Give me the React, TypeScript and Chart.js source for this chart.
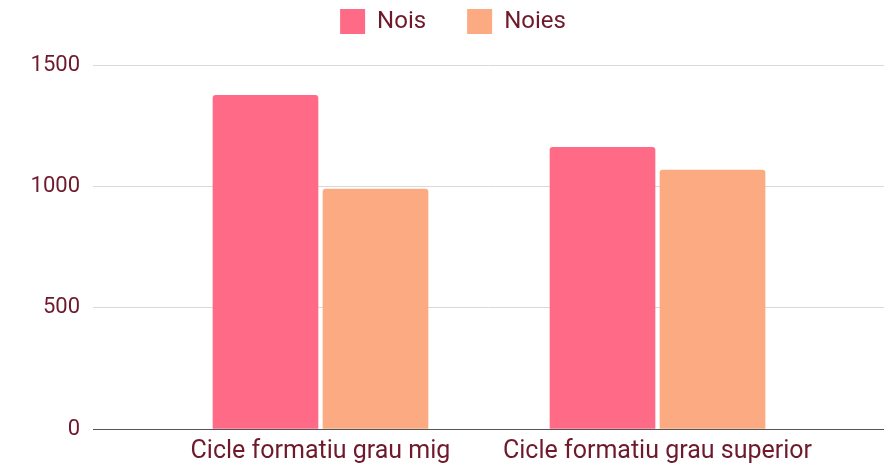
import React, { useEffect, useRef } from "react";
import { Chart, registerables, layouts } from "chart.js";

Chart.register(...registerables);

const categories = ["Cicle formatiu grau mig", "Cicle formatiu grau superior"];
const nois = [1375, 1161];
const noies = [989, 1067];
const yTicks = [0, 500, 1000, 1500];

const FONT = "Roboto, 'Noto Sans', sans-serif";
const TEXT = "#6e1a2c";

const spacerPlugin = {
  id: "legendSpacer",
  beforeInit(chart: any) {
    layouts.addBox(chart, {
      position: "top",
      weight: 500,
      fullSize: true,
      options: {},
      width: 0,
      height: 0,
      left: 0,
      top: 0,
      right: 0,
      bottom: 0,
      update(this: any, maxWidth: number) {
        this.width = maxWidth;
        this.height = 21;
      },
      isHorizontal() {
        return true;
      },
      draw() {},
    } as any);
  },
};

export default function App() {
  const ref = useRef<HTMLCanvasElement | null>(null);

  useEffect(() => {
    if (!ref.current) return;
    const chart = new Chart(ref.current, {
      type: "bar",
      data: {
        datasets: [
          {
            label: "Nois",
            data: nois.map((v, i) => ({ x: i, y: v })),
            backgroundColor: "#ff6b87",
            borderRadius: { topLeft: 3, topRight: 3, bottomLeft: 0, bottomRight: 0 },
            borderSkipped: false,
            barThickness: 110,
            maxBarThickness: 105,
          },
          {
            label: "Noies",
            data: noies.map((v, i) => ({ x: i, y: v })),
            backgroundColor: "#fbaa81",
            borderRadius: { topLeft: 3, topRight: 3, bottomLeft: 0, bottomRight: 0 },
            borderSkipped: false,
            barThickness: 110,
            maxBarThickness: 105,
          },
        ],
      },
      plugins: [spacerPlugin],
      options: {
        responsive: false,
        animation: false,
        layout: { padding: { top: -32, left: 22, right: 0, bottom: 0 } },
        plugins: {
          tooltip: { enabled: false },
          legend: {
            position: "top",
            labels: {
              boxWidth: 25,
              boxHeight: 25,
              padding: 41,
              color: TEXT,
              font: { family: FONT, size: 24 },
            },
          },
        },
        scales: {
          x: {
            type: "linear",
            offset: false,
            min: -0.675,
            max: 1.672,
            grid: { display: false, drawTicks: false },
            border: { display: true, color: "#555555", width: 1 },
            afterBuildTicks: (scale: any) => {
              scale.ticks = categories.map((_, i) => ({ value: i }));
            },
            afterFit: (scale: any) => {
              scale.height = 41;
            },
            ticks: {
              color: TEXT,
              font: { family: FONT, size: 25 },
              padding: 8,
              maxRotation: 0,
              autoSkip: false,
              callback: (v: any) => categories[Number(v)] ?? "",
            },
          },
          y: {
            min: 0,
            max: 1500,
            grid: { color: "#d9d9d9", drawTicks: false },
            border: { display: false },
            afterBuildTicks: (scale: any) => {
              scale.ticks = yTicks.map((v) => ({ value: v }));
            },
            afterFit: (scale: any) => {
              scale.width = 71;
            },
            ticks: {
              color: TEXT,
              font: { family: FONT, size: 22 },
              padding: 13,
              callback: (v: any) => String(v),
            },
          },
        },
      } as any,
    });
    return () => chart.destroy();
  }, []);

  return (
    <div style={{ position: "absolute", left: 0, top: 0, width: 884, height: 470 }}>
      <canvas ref={ref} width={884} height={470} />
    </div>
  );
}
